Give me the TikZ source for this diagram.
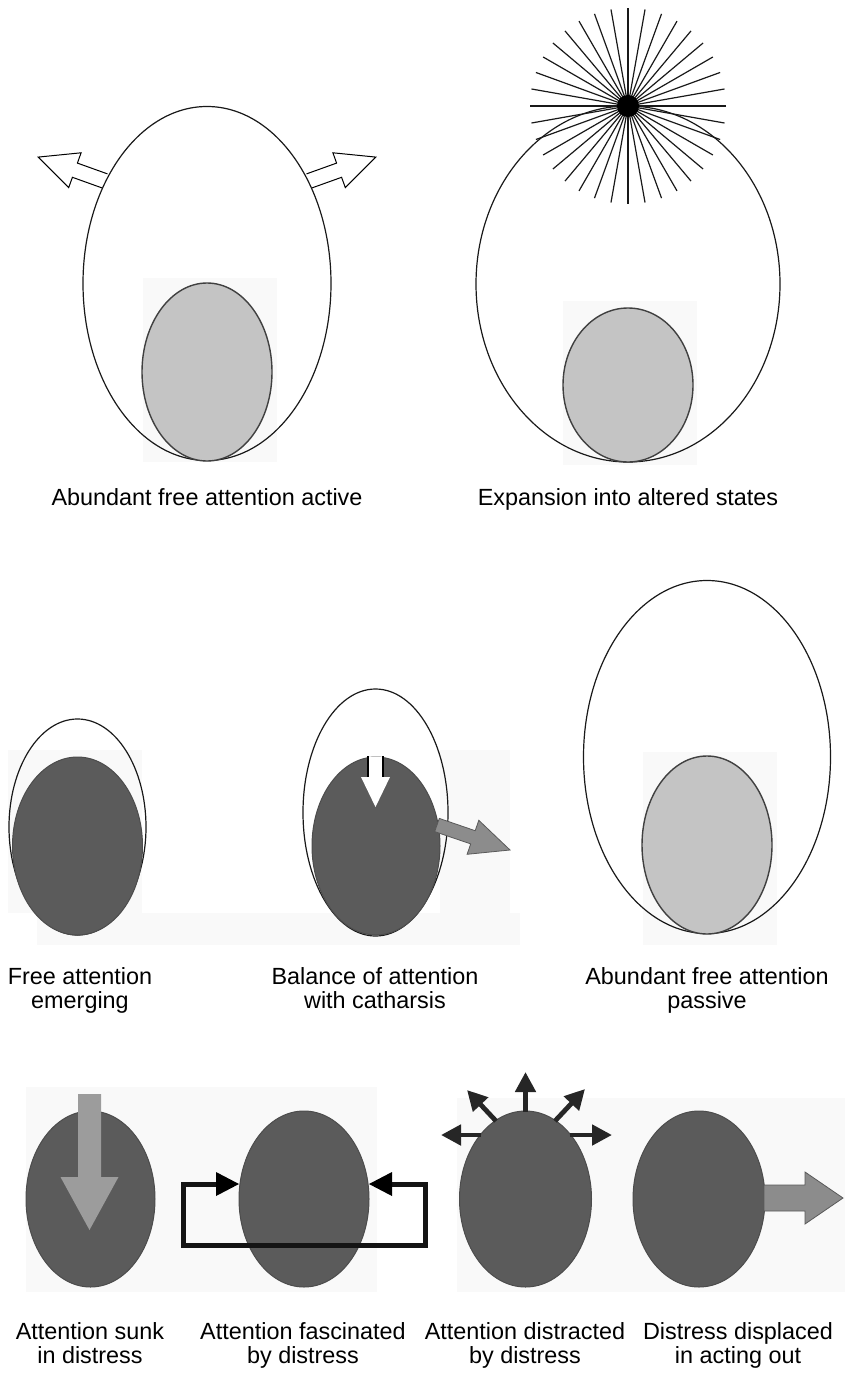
\documentclass[tikz,border=0pt]{standalone}
\usepackage{fontspec}
\setmainfont{Liberation Sans}
\usetikzlibrary{arrows.meta}
\definecolor{lightfill}{HTML}{C4C4C4}
\definecolor{darkfill}{HTML}{5B5B5B}
\definecolor{midgray}{HTML}{8C8C8C}
\definecolor{sinkgray}{HTML}{9C9C9C}
\definecolor{paler}{HTML}{F9F9F9}
\begin{document}
\begin{tikzpicture}[x=0.5pt,y=-0.5pt,
  outline/.style={draw=black!90, line width=0.6pt},
  lightblob/.style={fill=lightfill, draw=black!75, line width=0.7pt},
  darkblob/.style={fill=darkfill, draw=black!70, line width=0.5pt},
  bgpatch/.style={fill=paler, draw=none},
  openarrow/.style={fill=white, draw=black, line width=0.5pt, line join=miter},
  ray/.style={draw=black!90, line width=0.6pt},
  lbl/.style={font=\fontsize{11.7}{12}\selectfont, anchor=base, inner sep=0pt},
  loopline/.style={draw=black!92, line width=2.5pt, line join=miter},
  spoke/.style={draw=black!85, line width=2.4pt, -{Triangle[length=10pt,width=10pt]}},
  grayarrow/.style={fill=midgray, draw=black!65, line width=0.4pt, line join=miter}
]
\useasboundingbox (0,0) rectangle (845,1375);

% ---------------- Panel 1: Abundant free attention active
\fill[bgpatch] (143,278) rectangle (277,462);
\filldraw[openarrow] (107.5,173.9) -- (77.4,163.1) -- (81.1,152.8) -- (38.2,157.1) -- (68.7,187.6) -- (72.4,177.3) -- (102.5,188.1);
\filldraw[openarrow] (306.5,173.9) -- (336.6,163.1) -- (332.9,152.8) -- (375.8,157.1) -- (345.3,187.6) -- (341.6,177.3) -- (311.5,188.1);
\draw[outline] (207,283.5) ellipse [x radius=124, y radius=177];
\draw[lightblob] (207,372) ellipse [x radius=65, y radius=89];
\node[lbl] (lab1) at (207,505) {Abundant free attention active};

% ---------------- Panel 2: Expansion into altered states
\fill[bgpatch] (563,301) rectangle (697,465);
\draw[outline] (628,284) ellipse [x radius=152, y radius=178];
\draw[lightblob] (628,385) ellipse [x radius=65, y radius=77];
\coordinate (star) at (628,106);
\foreach \a in {0,10,...,170} {
  \draw[ray] (star) ++(\a:98) -- ++(\a+180:196);
}
\fill[black] (star) circle [radius=11];
\node[lbl] (lab2) at (628,505) {Expansion into altered states};

% ---------------- Middle row backgrounds
\fill[bgpatch] (8,750) rectangle (142,913);
\fill[bgpatch] (37,913) rectangle (520,945);
\fill[bgpatch] (440,750) rectangle (510,913);

% ---------------- Panel 3: Free attention emerging
\draw[outline] (77.5,827) ellipse [x radius=68.5, y radius=108];
\draw[darkblob] (77.5,846) ellipse [x radius=65, y radius=89];
\node[lbl] (lab3a) at (80,984) {Free attention};
\node[lbl] (lab3b) at (80,1008) {emerging};

% ---------------- Panel 4: Balance of attention with catharsis
\draw[outline] (375.5,812.5) ellipse [x radius=72.5, y radius=123.5];
\draw[darkblob] (376,846) ellipse [x radius=64, y radius=89];
\fill[white] (368,757) -- (368,777) -- (361,777) -- (375.5,807) -- (390,777) -- (383,777) -- (383,757) -- cycle;
\draw[black, line width=0.6pt] (368,756) -- (368,777) (383,756) -- (383,777);
\filldraw[grayarrow] (434.7,831.6) -- (470.7,843.9) -- (467.1,854.3) -- (510,850) -- (478.8,820.3) -- (475.2,830.7) -- (439.3,818.4) -- cycle;
\node[lbl] (lab4a) at (375,984) {Balance of attention};
\node[lbl] (lab4b) at (375,1008) {with catharsis};

% ---------------- Panel 5: Abundant free attention passive
\fill[bgpatch] (643,752) rectangle (777,945);
\draw[outline] (707,757) ellipse [x radius=123.5, y radius=176.5];
\draw[lightblob] (707,845) ellipse [x radius=65, y radius=89];
\node[lbl] (lab5a) at (707,984) {Abundant free attention};
\node[lbl] (lab5b) at (707,1008) {passive};

% ---------------- Bottom row backgrounds
\fill[bgpatch] (26,1087) rectangle (377,1292);
\fill[bgpatch] (457,1098) rectangle (845,1292);

% ---------------- Panel 6: Attention sunk in distress
\draw[darkblob] (90.5,1199) ellipse [x radius=64.5, y radius=88];
\fill[sinkgray] (78,1094) -- (101,1094) -- (101,1177) -- (118.5,1177) -- (89.5,1230) -- (60.5,1177) -- (78,1177) -- cycle;
\node[lbl] (lab6a) at (90,1339) {Attention sunk};
\node[lbl] (lab6b) at (90,1363) {in distress};

% ---------------- Panel 7: Attention fascinated by distress
\draw[darkblob] (304,1199) ellipse [x radius=65, y radius=88];
\draw[loopline] (218,1184) -- (183,1184) -- (183,1245) -- (425,1245) -- (425,1184) -- (390,1184);
\fill[black] (216,1172) -- (239,1184) -- (216,1196) -- cycle;
\fill[black] (392,1172) -- (369,1184) -- (392,1196) -- cycle;
\node[lbl] (lab7a) at (303,1339) {Attention fascinated};
\node[lbl] (lab7b) at (303,1363) {by distress};

% ---------------- Panel 8: Attention distracted by distress
\draw[darkblob] (525.5,1199) ellipse [x radius=66, y radius=88];
\draw[spoke] (525.5,1112) -- (525.5,1072);
\draw[spoke] (496,1121) -- (467,1090);
\draw[spoke] (555,1121) -- (585,1089);
\draw[spoke] (481,1135) -- (441,1135);
\draw[spoke] (570,1135) -- (612,1135);
\node[lbl] (lab8a) at (525,1339) {Attention distracted};
\node[lbl] (lab8b) at (525,1363) {by distress};

% ---------------- Panel 9: Distress displaced in acting out
\draw[darkblob] (699,1199) ellipse [x radius=66, y radius=88];
\filldraw[grayarrow] (764,1185) -- (805,1185) -- (805,1172) -- (843,1198) -- (805,1224) -- (805,1211) -- (764,1211) -- cycle;
\node[lbl] (lab9a) at (738,1339) {Distress displaced};
\node[lbl] (lab9b) at (738,1363) {in acting out};

\end{tikzpicture}
\end{document}
